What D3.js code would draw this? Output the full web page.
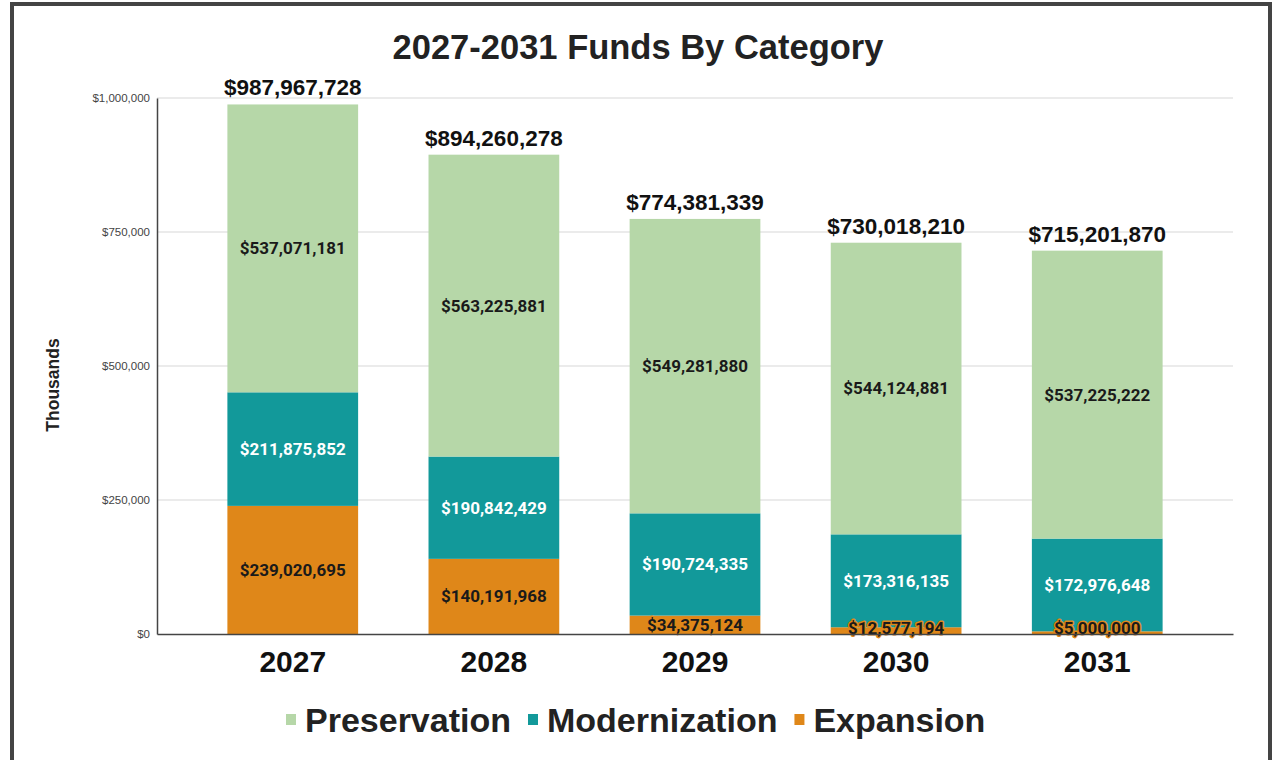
<!DOCTYPE html>
<html>
<head>
<meta charset="utf-8">
<script src="https://cdn.jsdelivr.net/npm/d3@7"></script>
<style>
  html, body { margin: 0; padding: 0; background: #fff; }
  svg { display: block; }
</style>
</head>
<body>
<svg id="chart" width="1274" height="760"></svg>
<script>
const years = ["2027", "2028", "2029", "2030", "2031"];
const preservation = [537071181, 563225881, 549281880, 544124881, 537225222];
const modernization = [211875852, 190842429, 190724335, 173316135, 172976648];
const expansion = [239020695, 140191968, 34375124, 12577194, 5000000];
const totals = [987967728, 894260278, 774381339, 730018210, 715201870];
const yTicks = [0, 250000, 500000, 750000, 1000000];

const seriesNames = ["Expansion", "Modernization", "Preservation"];
const colors = {
  Preservation: "#b6d7a8",
  Modernization: "#12999a",
  Expansion: "#df8719"
};
const labelColors = {
  Preservation: "#1a1a1a",
  Modernization: "#ffffff",
  Expansion: "#1a1a1a"
};

const rows = years.map((y, i) => ({
  year: y,
  Expansion: expansion[i],
  Modernization: modernization[i],
  Preservation: preservation[i],
  total: totals[i]
}));

const svg = d3.select("#chart");
const margin = { top: 98, right: 41, bottom: 126, left: 157 };
const width = 1274 - margin.left - margin.right,
  height = 760 - margin.top - margin.bottom;

// frame
svg.append("rect")
  .attr("x", 12).attr("y", 4)
  .attr("width", 1258).attr("height", 770)
  .attr("fill", "none")
  .attr("stroke", "#444")
  .attr("stroke-width", 4);

svg.append("text")
  .attr("x", 638).attr("y", 59)
  .attr("text-anchor", "middle")
  .attr("font-family", "Liberation Sans, Arial, sans-serif")
  .attr("font-weight", "bold")
  .attr("font-size", 34.5)
  .attr("fill", "#222")
  .text("2027-2031 Funds By Category");

const g = svg.append("g")
  .attr("transform", "translate(" + margin.left + "," + margin.top + ")");

const x = d3.scaleBand().domain(years).range([0, width]).padding(0.35);
// values plotted in thousands
const y = d3.scaleLinear().domain([0, 1000000]).range([height, 0]);

// gridlines
g.append("g")
  .selectAll("line")
  .data(yTicks.slice(1))
  .enter()
  .append("line")
  .attr("x1", 0).attr("x2", width)
  .attr("y1", d => y(d)).attr("y2", d => y(d))
  .attr("stroke", "#e4e4e4")
  .attr("stroke-width", 1.5);

const yAxis = g.append("g")
  .call(d3.axisLeft(y).tickValues(yTicks).tickSize(0).tickPadding(7)
    .tickFormat(d => "$" + d3.format(",")(d)));
yAxis.select(".domain").attr("stroke", "#444").attr("stroke-width", 1.5);
yAxis.selectAll("text")
  .attr("font-family", "Liberation Sans, Arial, sans-serif")
  .attr("font-size", 11.5)
  .attr("fill", "#444");

svg.append("text")
  .attr("transform", "translate(59," + 385 + ") rotate(-90)")
  .attr("text-anchor", "middle")
  .attr("font-family", "Liberation Sans, Arial, sans-serif")
  .attr("font-weight", "bold")
  .attr("font-size", 17.5)
  .attr("fill", "#222")
  .text("Thousands");

const stack = d3.stack().keys(seriesNames);
const layers = stack(rows);

const layer = g.selectAll(".layer")
  .data(layers)
  .enter()
  .append("g")
  .attr("class", "layer")
  .attr("fill", d => colors[d.key]);

layer.selectAll("rect")
  .data(d => d)
  .enter()
  .append("rect")
  .attr("x", d => x(d.data.year))
  .attr("y", d => y(d[1] / 1000))
  .attr("width", x.bandwidth())
  .attr("height", d => y(d[0] / 1000) - y(d[1] / 1000));

// segment labels
const fmt = d => "$" + d3.format(",")(d);
layers.forEach(l => {
  const small = l.key == "Expansion";
  g.append("g")
    .selectAll("text")
    .data(l)
    .enter()
    .append("text")
    .attr("x", d => x(d.data.year) + x.bandwidth() / 2)
    .attr("y", d => {
      const mid = (y(d[0] / 1000) + y(d[1] / 1000)) / 2;
      return Math.min(mid, height - 6);
    })
    .attr("dy", "0.35em")
    .attr("text-anchor", "middle")
    .attr("font-family", "Roboto, sans-serif")
    .attr("font-weight", "bold")
    .attr("font-size", 17)
    .attr("fill", labelColors[l.key])
    .attr("stroke", small ? colors.Expansion : "none")
    .attr("stroke-width", 3)
    .attr("paint-order", "stroke")
    .attr("stroke-linejoin", "round")
    .text(d => fmt(d.data[l.key]));
});

// totals
g.selectAll(".total")
  .data(rows)
  .enter()
  .append("text")
  .attr("class", "total")
  .attr("x", d => x(d.year) + x.bandwidth() / 2)
  .attr("y", d => y(d.total / 1000) - 9)
  .attr("text-anchor", "middle")
  .attr("font-family", "Liberation Sans, Arial, sans-serif")
  .attr("font-weight", "bold")
  .attr("font-size", 22.5)
  .attr("fill", "#111")
  .text(d => fmt(d.total));

const xAxis = g.append("g")
  .attr("transform", "translate(0," + height + ")")
  .call(d3.axisBottom(x).tickSize(0).tickPadding(17));
xAxis.select(".domain").attr("stroke", "#444").attr("stroke-width", 1.5);
xAxis.selectAll("text")
  .attr("font-family", "Liberation Sans, Arial, sans-serif")
  .attr("font-weight", "bold")
  .attr("font-size", 30)
  .attr("fill", "#111");

// legend
const legendItems = ["Preservation", "Modernization", "Expansion"];
const legend = svg.append("g");
let lx = 286;
legendItems.forEach(name => {
  const item = legend.append("g").attr("transform", "translate(" + lx + ",0)");
  item.append("rect")
    .attr("x", 0).attr("y", 714)
    .attr("width", 10).attr("height", 11)
    .attr("fill", colors[name]);
  const t = item.append("text")
    .attr("x", 19).attr("y", 732)
    .attr("font-family", "Liberation Sans, Arial, sans-serif")
    .attr("font-weight", "bold")
    .attr("font-size", 34)
    .attr("fill", "#222")
    .text(name);
  lx += 19 + t.node().getComputedTextLength() + 17;
});
</script>
</body>
</html>
